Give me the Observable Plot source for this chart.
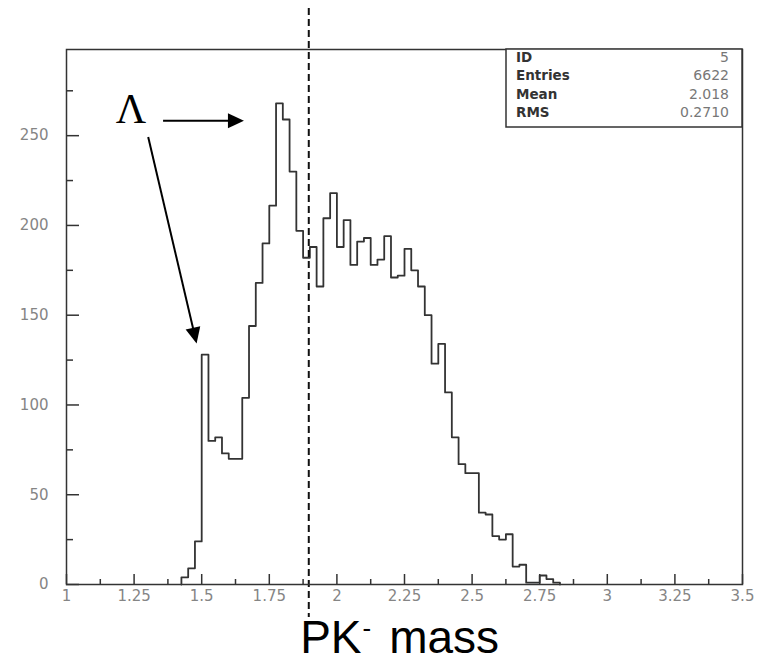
<!DOCTYPE html>
<html><head><meta charset="utf-8">
<script src="https://cdn.jsdelivr.net/npm/d3@7"></script>
<script src="https://cdn.jsdelivr.net/npm/@observablehq/plot@0.6"></script>
<style>html,body{margin:0;padding:0;background:#fff;} svg{display:block;}</style>
</head><body><div id="chart"></div>
<script>
// ---- data ----
const binLow = [1.425,1.45,1.475,1.5,1.525,1.55,1.575,1.6,1.625,1.65,1.675,1.7,1.725,1.75,1.775,1.8,1.825,1.85,1.875,1.9,1.925,1.95,1.975,2.0,2.025,2.05,2.075,2.1,2.125,2.15,2.175,2.2,2.225,2.25,2.275,2.3,2.325,2.35,2.375,2.4,2.425,2.45,2.475,2.5,2.525,2.55,2.575,2.6,2.625,2.65,2.675,2.7,2.725,2.75,2.775,2.8];
const counts = [4,9,24,128,80,82,73,70,70,104,144,168,190,211,268,259,230,197,182,188,166,204,218,188,203,178,191,193,178,181,194,171,172,187,175,166,150,123,134,107,82,67,62,62,40,39,27,25,28,10,11,1,1,5,3,1];
const binWidth = 0.025;

const xMajor = [1,1.25,1.5,1.75,2,2.25,2.5,2.75,3,3.25,3.5];
const xTickLabels = ["1","1.25","1.5","1.75","2","2.25","2.5","2.75","3","3.25","3.5"];
const xMinor = [1.125,1.375,1.625,1.875,2.125,2.375,2.625,2.875,3.125,3.375];
const yMajor = [0,50,100,150,200,250];
const yTickLabels = ["0","50","100","150","200","250"];
const yMinor = [25,75,125,175,225,275];

const statLabels = ["ID","Entries","Mean","RMS"];
const statValues = ["5","6622","2.018","0.2710"];

const titleParts = ["PK","-","mass"];
const lambdaText = "Λ";
const lambdaPos = [1.240, 257];          // annotation anchor (x, count)
const arrows = [
  {x1: 1.359, y1: 258, x2: 1.658, y2: 258},
  {x1: 1.304, y1: 249, x2: 1.483, y2: 134}
];
const dashX = 1.896;
const titleX = 1.866;

// ---- build ----
const steps = [{x: binLow[0], y: 0}];
binLow.forEach((x, i) => steps.push({x, y: counts[i]}));
steps.push({x: binLow[binLow.length - 1] + binWidth, y: 0});

const W = 772, H = 662, mL = 66, mR = 30, mT = 49, mB = 78;
const plotW = W - mL - mR, plotH = H - mT - mB;

function annotations(index, scales, values, dims) {
  const sx = scales.x, sy = scales.y;
  const g = d3.create("svg:g");
  // Lambda
  g.append("text")
    .attr("x", sx(lambdaPos[0])).attr("y", sy(lambdaPos[1]))
    .attr("text-anchor", "middle")
    .attr("font-family", "'Liberation Serif','Times New Roman',serif")
    .attr("font-size", 42).attr("fill", "#000").text(lambdaText);
  // arrows
  for (const a of arrows) {
    const x1 = sx(a.x1), y1 = sy(a.y1), x2 = sx(a.x2), y2 = sy(a.y2);
    const dx = x2 - x1, dy = y2 - y1, len = Math.hypot(dx, dy);
    const ux = dx / len, uy = dy / len, hl = 16, hw = 7.5;
    const bx = x2 - ux * hl, by = y2 - uy * hl;
    g.append("line").attr("x1", x1).attr("y1", y1).attr("x2", bx + ux * 2).attr("y2", by + uy * 2)
      .attr("stroke", "#000").attr("stroke-width", 2);
    g.append("path")
      .attr("d", `M${x2},${y2}L${bx - uy * hw},${by + ux * hw}L${bx + uy * hw},${by - ux * hw}Z`)
      .attr("fill", "#000");
  }
  // stats box
  const right = dims.width - dims.marginRight, top = dims.marginTop;
  const bw = 236, bh = 78, left = right - bw;
  g.append("rect").attr("x", left).attr("y", top).attr("width", bw).attr("height", bh)
    .attr("fill", "#fff").attr("stroke", "#333").attr("stroke-width", 1.5);
  statLabels.forEach((t, i) => {
    const yy = top + 12.5 + i * 18.5;
    g.append("text").attr("x", left + 10).attr("y", yy).attr("text-anchor", "start")
      .attr("font-family", "'DejaVu Sans',sans-serif").attr("font-size", 13.5)
      .attr("font-weight", "bold").attr("fill", "#333").text(t);
    g.append("text").attr("x", right - 13).attr("y", yy).attr("text-anchor", "end")
      .attr("font-family", "'DejaVu Sans',sans-serif").attr("font-size", 14)
      .attr("fill", "#777").text(statValues[i]);
  });
  // x title with superscript
  const t = g.append("text")
    .attr("x", sx(titleX)).attr("y", dims.height - 9)
    .attr("text-anchor", "start")
    .attr("font-family", "'Liberation Sans',Arial,sans-serif")
    .attr("font-size", 46).attr("fill", "#000");
  t.append("tspan").text(titleParts[0]);
  t.append("tspan").attr("font-size", 26).attr("dy", -16).attr("dx", 1).text(titleParts[1]);
  t.append("tspan").attr("dy", 16).attr("dx", 18).text(titleParts[2]);
  return g.node();
}

const plot = Plot.plot({
  width: W, height: H,
  marginLeft: mL, marginRight: mR, marginTop: mT, marginBottom: mB,
  x: {domain: [1, 3.5]},
  y: {domain: [0, 298]},
  style: {fontFamily: "'DejaVu Sans',sans-serif", fontSize: "15px", background: "#fff", color: "#333", overflow: "visible"},
  marks: [
    Plot.ruleX(xMajor, {x: d => d, insetTop: plotH - 10, stroke: "#333", strokeWidth: 1.5}),
    Plot.ruleX(xMinor, {x: d => d, insetTop: plotH - 5, stroke: "#333", strokeWidth: 1.5}),
    Plot.ruleY(yMajor, {y: d => d, insetRight: plotW - 13, stroke: "#333", strokeWidth: 1.5}),
    Plot.ruleY(yMinor, {y: d => d, insetRight: plotW - 7, stroke: "#333", strokeWidth: 1.5}),
    Plot.axisX({ticks: xMajor, tickSize: 0, tickPadding: 6,
      tickFormat: d => xTickLabels[xMajor.indexOf(d)], fill: "#858585", fontSize: 15, label: null}),
    Plot.axisY({ticks: yMajor, tickSize: 0, tickPadding: 18,
      tickFormat: d => yTickLabels[yMajor.indexOf(d)], fill: "#858585", fontSize: 15, label: null}),
    Plot.line(steps, {x: "x", y: "y", curve: "step-after", stroke: "#333", strokeWidth: 1.8}),
    Plot.ruleX([dashX], {x: d => d, insetTop: -41, insetBottom: -33, stroke: "#111", strokeWidth: 2, strokeDasharray: "7,4"}),
    Plot.frame({stroke: "#333", strokeWidth: 1.5}),
    annotations
  ]
});
document.getElementById("chart").appendChild(plot);
</script>
</body></html>
